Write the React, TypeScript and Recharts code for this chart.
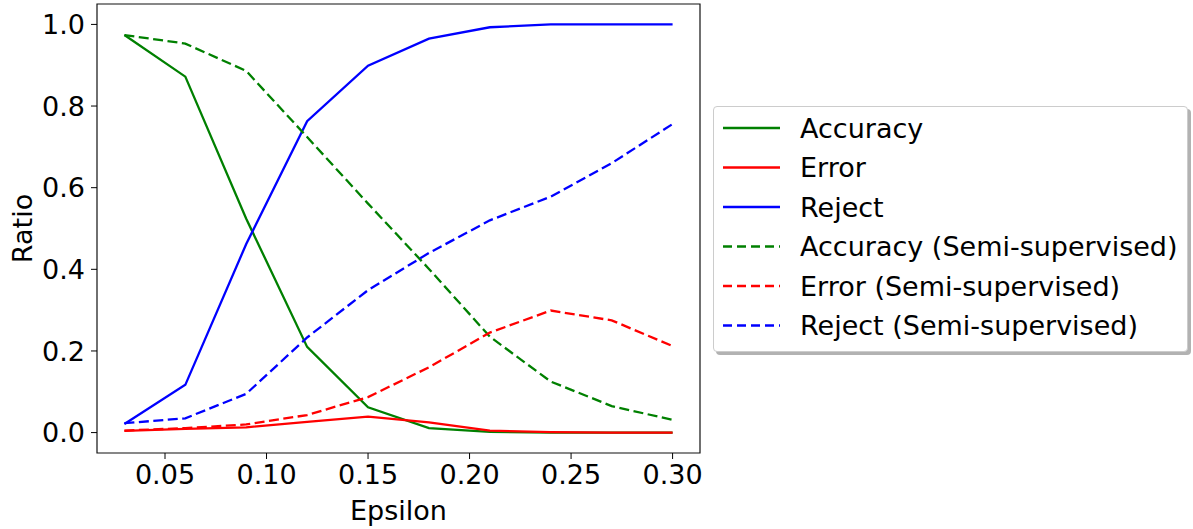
import React from "react";
import {
  LineChart,
  Line,
  XAxis,
  YAxis,
  ReferenceArea,
  Legend,
  Label,
} from "recharts";

// values
const epsilon = [0.03, 0.06, 0.09, 0.12, 0.15, 0.18, 0.21, 0.24, 0.27, 0.3];
const accuracy = [0.974, 0.872, 0.524, 0.21, 0.062, 0.011, 0.002, 0.0, 0.0, 0.0];
const error = [0.004, 0.009, 0.013, 0.026, 0.039, 0.025, 0.005, 0.001, 0.0, 0.0];
const reject = [0.021, 0.117, 0.462, 0.763, 0.899, 0.965, 0.993, 1.0, 1.0, 1.0];
const accuracySemi = [0.974, 0.953, 0.886, 0.724, 0.561, 0.401, 0.235, 0.125, 0.065, 0.031];
const errorSemi = [0.005, 0.011, 0.02, 0.043, 0.087, 0.16, 0.245, 0.299, 0.275, 0.212];
const rejectSemi = [0.023, 0.035, 0.095, 0.233, 0.349, 0.44, 0.52, 0.578, 0.66, 0.756];

const xTicks = [0.05, 0.1, 0.15, 0.2, 0.25, 0.3];
const yTicks = [0, 0.2, 0.4, 0.6, 0.8, 1.0];

const series = [
  { key: "acc", name: "Accuracy", color: "#008000", dashed: false },
  { key: "err", name: "Error", color: "#ff0000", dashed: false },
  { key: "rej", name: "Reject", color: "#0000ff", dashed: false },
  { key: "accSemi", name: "Accuracy (Semi-supervised)", color: "#008000", dashed: true },
  { key: "errSemi", name: "Error (Semi-supervised)", color: "#ff0000", dashed: true },
  { key: "rejSemi", name: "Reject (Semi-supervised)", color: "#0000ff", dashed: true },
];

const data = epsilon.map((eps, i) => ({
  eps,
  acc: accuracy[i],
  err: error[i],
  rej: reject[i],
  accSemi: accuracySemi[i],
  errSemi: errorSemi[i],
  rejSemi: rejectSemi[i],
}));

const FONT = "DejaVu Sans, sans-serif";
const FS = 27;
const X_DOMAIN: [number, number] = [0.0165, 0.3135];
const Y_DOMAIN: [number, number] = [-0.05, 1.05];

function LegendBox() {
  const rowH = 39.5;
  return (
    <div
      style={{
        width: 475,
        height: 246,
        background: "#fff",
        border: "1px solid #cccccc",
        borderRadius: 4,
        boxShadow: "3px 3px 0 rgba(0,0,0,0.3)",
        boxSizing: "border-box",
      }}
    >
      <svg width={473} height={244}>
        {series.map((s, i) => {
          const cy = 21 + i * rowH;
          return (
            <g key={s.key}>
              <line
                x1={9}
                x2={66}
                y1={cy}
                y2={cy}
                stroke={s.color}
                strokeWidth={2.3}
                strokeDasharray={s.dashed ? "9 5" : undefined}
              />
              <text x={86} y={cy + 9.6} fontSize={FS} fontFamily={FONT} fill="#000">
                {s.name}
              </text>
            </g>
          );
        })}
      </svg>
    </div>
  );
}

export default function App() {
  return (
    <div style={{ position: "absolute", left: 0, top: 0, fontFamily: FONT }}>
      <LineChart
        width={1193}
        height={529}
        data={data}
        margin={{ top: 4, right: 493, left: 37, bottom: 26 }}
      >
        <XAxis
          dataKey="eps"
          type="number"
          domain={X_DOMAIN}
          allowDataOverflow
          ticks={xTicks}
          interval={0}
          tickFormatter={(v: number) => v.toFixed(2)}
          tick={{ fill: "#000", fontSize: FS, fontFamily: FONT }}
          tickLine={{ stroke: "#000" }}
          tickSize={6}
          tickMargin={6}
          axisLine={false}
          height={50}
        >
          <Label
            content={({ viewBox }: any) => (
              <text
                x={viewBox.x + viewBox.width / 2}
                y={520}
                textAnchor="middle"
                fontSize={FS}
                fontFamily={FONT}
                fill="#000"
              >
                Epsilon
              </text>
            )}
          />
        </XAxis>
        <YAxis
          type="number"
          domain={Y_DOMAIN}
          allowDataOverflow
          ticks={yTicks}
          interval={0}
          tickFormatter={(v: number) => v.toFixed(1)}
          tick={{ fill: "#000", fontSize: FS, fontFamily: FONT }}
          tickLine={{ stroke: "#000" }}
          tickSize={6}
          tickMargin={6}
          axisLine={false}
          width={60}
        >
          <Label
            content={({ viewBox }: any) => {
              const cx = viewBox.x - 15;
              const cy = viewBox.y + viewBox.height / 2;
              return (
                <text
                  x={cx}
                  y={cy}
                  transform={`rotate(-90 ${cx} ${cy})`}
                  textAnchor="middle"
                  dominantBaseline="central"
                  fontSize={FS}
                  fontFamily={FONT}
                  fill="#000"
                >
                  Ratio
                </text>
              );
            }}
          />
        </YAxis>
        {series.map((s) => (
          <Line
            key={s.key}
            dataKey={s.key}
            name={s.name}
            type="linear"
            stroke={s.color}
            strokeWidth={2.3}
            strokeDasharray={s.dashed ? "10 4.5" : undefined}
            dot={false}
            activeDot={false}
            isAnimationActive={false}
          />
        ))}
        <ReferenceArea
          x1={X_DOMAIN[0]}
          x2={X_DOMAIN[1]}
          y1={Y_DOMAIN[0]}
          y2={Y_DOMAIN[1]}
          fill="none"
          stroke="#111"
          strokeWidth={1.2}
          fillOpacity={0}
        />
        <Legend
          layout="vertical"
          align="center"
          verticalAlign="middle"
          content={() => <LegendBox />}
          wrapperStyle={{ left: 713, top: 106, width: 479, height: 250 }}
        />
      </LineChart>
    </div>
  );
}
